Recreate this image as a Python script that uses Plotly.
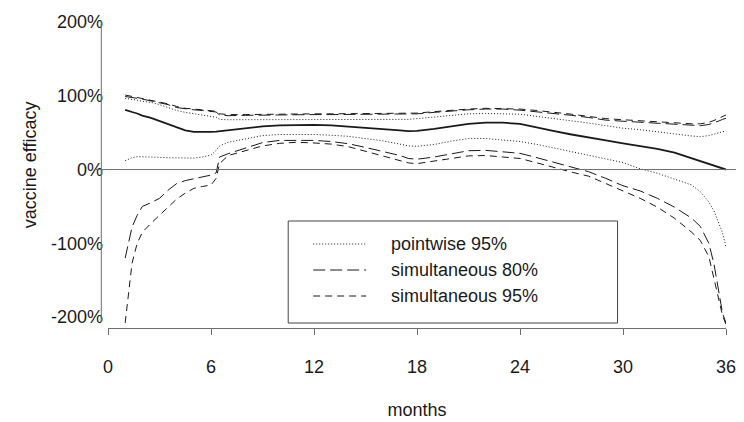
import plotly.graph_objects as go

months = [1, 1.2, 1.4, 1.7, 2, 2.5, 3, 3.5, 4, 4.5, 5, 5.5, 6, 6.3, 6.5, 7, 8, 9, 10, 11, 12,
          13, 14, 15, 16, 17, 17.5, 18, 19, 20, 21, 22, 23, 24, 25, 26, 27, 28, 29, 30,
          31, 32, 33, 34, 34.5, 35, 35.3, 35.6, 35.8, 36]

estimate = [81, 80, 78, 76, 73, 70, 66, 62, 57, 53, 51, 50.5, 51, 51.5, 52, 54, 56.5, 58.5, 60, 60.5, 60.5,
            60, 58.5, 57, 55.5, 53, 52, 52.5, 55, 58, 62, 63.5, 63.5, 62, 56.5, 52, 47.5, 43, 39.5, 35.5,
            32, 28, 23, 15.5, 11.5, 7, 5, 3, 1.5, 0]

pw_upper = [96.5, 96, 95, 94, 92.5, 91, 88, 84, 80, 77.5, 76, 74, 72, 71, 68, 67.5, 67.5, 68, 68, 68, 68,
            68, 68, 68, 68, 68, 68, 69, 71, 73.5, 75.5, 76, 76, 75, 72, 69, 67, 63, 59.5, 56,
            54, 51, 48, 45.5, 44.5, 46, 48, 50, 51.5, 52.5]

pw_lower = [12, 14, 16, 17.5, 17.5, 17, 16.5, 16, 15.5, 15, 15.5, 17, 19.6, 26, 32, 37, 42, 46, 47.5, 48, 47.5,
            46.5, 45, 42, 39, 34.5, 32, 31.5, 34, 38.5, 42, 42, 40.5, 38, 34, 29, 24.5, 19, 14.5, 9.5,
            1, -5, -13, -21, -30, -44, -56, -73, -86, -105]

sim80_upper = [99, 98.5, 98, 97, 95.5, 93, 91, 88, 84, 82, 81, 80, 79, 78, 74, 73, 73.5, 74, 74.5, 74.5, 74.5,
               74.5, 74.5, 74.5, 74.5, 75, 75, 75.5, 77.5, 79.5, 81, 82, 82, 80.5, 78.5, 76.5, 73.5, 70.5, 67, 65.5,
               64, 62.5, 61, 59.5, 59.5, 61, 63, 66, 68, 69.5]

sim80_lower = [-120, -100, -78, -62, -50, -45, -39, -28, -19, -15, -12.5, -10, -7.5, -4.5, 17, 21.5, 28.5, 36.5, 39.5, 40, 39.5,
               38, 35, 30, 25, 19, 15, 14, 17, 21, 25.5, 26, 24, 22, 16, 9.5, 3, -3, -12, -22,
               -29, -39, -51, -66, -77, -100, -128, -165, -195, -208]

sim95_upper = [101, 100, 99.5, 98.5, 97, 94.5, 92, 89, 85.5, 83, 82, 81, 80, 79, 75.5, 74.5, 74.5, 75, 75.5, 75.5, 75.5,
               75.5, 75.5, 75.5, 75.5, 76, 76, 76.5, 78.5, 80.5, 82, 83, 83, 82, 80, 78, 75, 72, 69, 67.5,
               66, 64.5, 63, 62, 62, 64, 66.5, 70, 72.5, 74]

sim95_lower = [-208, -163, -127, -100, -85, -73, -62, -50, -40, -32, -25.5, -23, -21, -12, 8, 19, 25, 32, 35.5, 37, 36,
               34.5, 31, 25, 19, 12, 9, 8, 11, 15, 18.5, 19, 17, 15, 9, 2.5, -3.5, -9, -19, -29,
               -39, -51, -66, -85, -96, -118, -146, -178, -198, -210]

y_ticks = [200, 100, 0, -100, -200]
y_tick_text = ["200%", "100%", "0%", "-100%", "-200%"]
x_ticks = [0, 6, 12, 18, 24, 30, 36]
legend_labels = ["pointwise 95%", "simultaneous 80%", "simultaneous 95%"]
x_title = "months"
y_title = "vaccine efficacy"

FONT = "Liberation Sans, Arial, sans-serif"
INK = "#1a1a1a"
AX = "#6e6e6e"
DOT = "1px,2px"
LDASH = "12px,5px"
SDASH = "7px,5px"

fig = go.Figure()

def add(y, dash, width=1.0):
    fig.add_trace(go.Scatter(x=months, y=y, mode="lines",
                             line=dict(color=INK, width=width, dash=dash),
                             showlegend=False, hoverinfo="skip"))

add(pw_upper, DOT)
add(pw_lower, DOT)
add(sim80_upper, LDASH)
add(sim80_lower, LDASH)
add(sim95_upper, SDASH)
add(sim95_lower, SDASH)
add(estimate, "solid", 1.8)

# page body has an 8px margin: work in viewport pixels, then shift
OFF = 8
W, H = 744 - OFF, 422 - OFF
L, R, T, B = 107.7 - OFF, 726.0 - OFF, 22.0 - OFF, 328.0 - OFF
pw = R - L
ph = B - T

def px_x(p):
    return (p - OFF - L) / pw

def px_y(p):
    return (B - (p - OFF)) / ph

shapes = []
# zero reference line
shapes.append(dict(type="line", xref="paper", yref="y", x0=px_x(95), x1=px_x(744), y0=0, y1=0,
                   line=dict(color=AX, width=1)))
# y axis line
shapes.append(dict(type="line", xref="paper", yref="paper", x0=px_x(101), x1=px_x(101),
                   y0=px_y(322), y1=px_y(21), line=dict(color=AX, width=1)))
# legend box
shapes.append(dict(type="rect", xref="paper", yref="paper", x0=px_x(288), x1=px_x(617.5),
                   y0=px_y(323), y1=px_y(221), line=dict(color="#444444", width=1),
                   fillcolor="rgba(0,0,0,0)"))
rows = [244, 270, 296]
dashes = [DOT, LDASH, SDASH]
annotations = []
for r, d, lab in zip(rows, dashes, legend_labels):
    shapes.append(dict(type="line", xref="paper", yref="paper", x0=px_x(313), x1=px_x(366),
                       y0=px_y(r), y1=px_y(r), line=dict(color=INK, width=1, dash=d)))
    annotations.append(dict(text=lab, xref="paper", yref="paper", x=px_x(389), y=px_y(r),
                            xanchor="left", yanchor="middle", showarrow=False,
                            font=dict(family=FONT, size=18, color=INK)))

# y-axis title (placed slightly above plot centre, as in the original)
annotations.append(dict(text=y_title, xref="paper", yref="paper", x=px_x(30), y=px_y(165),
                        xanchor="center", yanchor="middle", textangle=-90, showarrow=False,
                        font=dict(family=FONT, size=18, color=INK)))

fig.update_layout(
    width=W, height=H,
    margin=dict(l=L, r=W - R, t=T, b=H - B, pad=0),
    paper_bgcolor="white", plot_bgcolor="white",
    font=dict(family=FONT, size=18, color=INK),
    shapes=shapes, annotations=annotations,
    showlegend=False,
    xaxis=dict(range=[0, 36], tickvals=x_ticks, ticktext=[str(v) for v in x_ticks],
               showgrid=False, zeroline=False, showline=True, linecolor=AX, linewidth=1,
               ticks="outside", ticklen=6, tickcolor=AX, ticklabelstandoff=16,
               tickfont=dict(family=FONT, size=18, color=INK), automargin=False,
               title=dict(text=x_title, standoff=27, font=dict(family=FONT, size=18, color=INK))),
    yaxis=dict(range=[-214.8, 200], tickvals=y_ticks, ticktext=y_tick_text,
               showgrid=False, zeroline=False, showline=False, ticks="",
               ticklabelstandoff=4, automargin=False,
               tickfont=dict(family=FONT, size=18, color=INK)),
)

fig.write_html("out.html")
